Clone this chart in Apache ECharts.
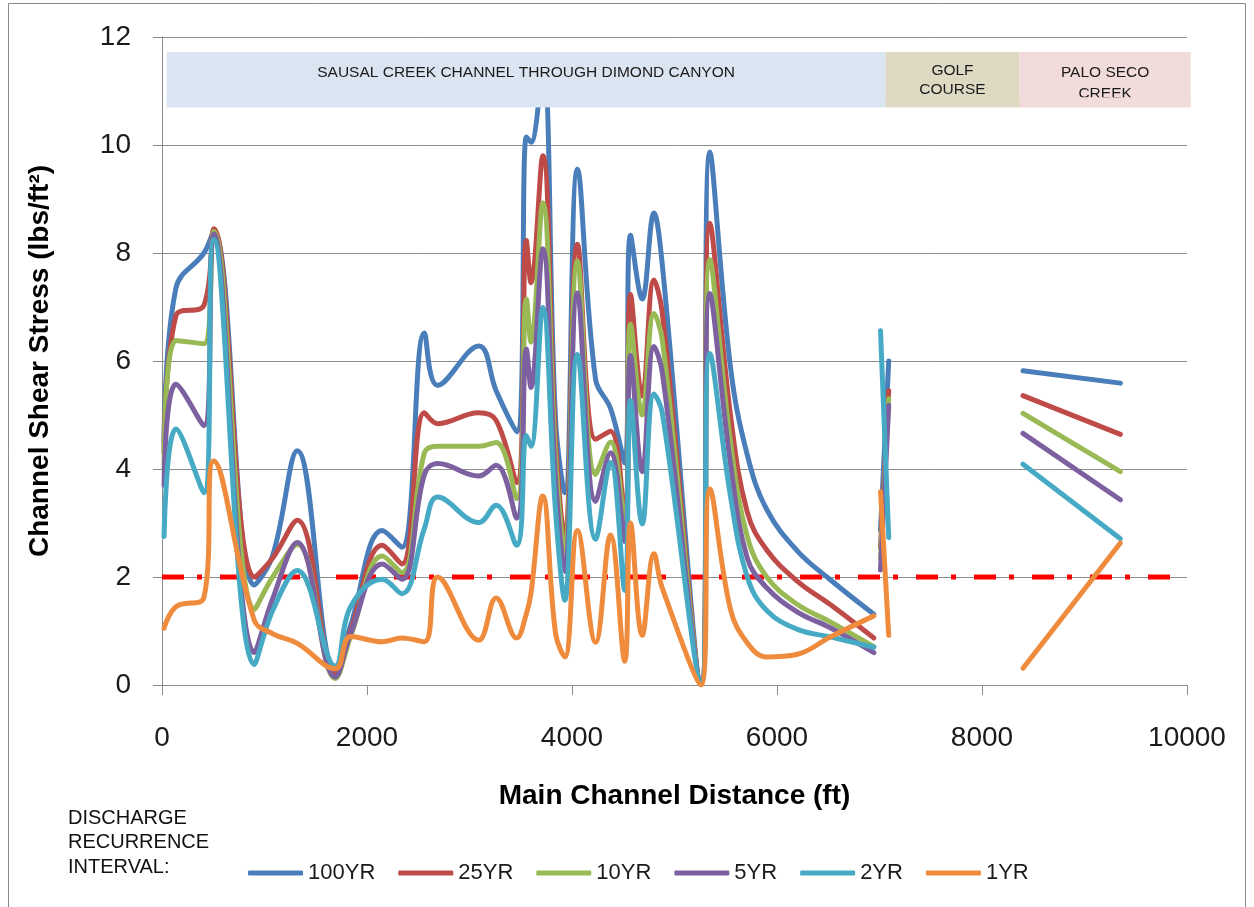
<!DOCTYPE html>
<html>
<head>
<meta charset="utf-8">
<title>Channel Shear Stress</title>
<script src="https://cdn.jsdelivr.net/npm/echarts@6/dist/echarts.min.js"></script>
<style>
  html, body { margin: 0; padding: 0; background: #fff; }
  #chart { width: 1254px; height: 907px; }
</style>
</head>
<body>
<div id="chart"></div>
<script>
// Cross-section stations along the main channel (ft); null entries separate reaches
const stations = [20, 136, 409, 505, 900, 1080, 1320, 1690, 1840, 2150, 2340, 2560, 2690, 3090, 3260, 3460,
  3555, 3600, 3715, 3840, 3930, 4053, 4230, 4376, 4515, 4571, 4685, 4800, 4880, 5260, 5345, 5546, 5710,
  5900, 6200, 6520, 6945, 6980, 7010, 7090, 8000, 8400, 9350];

// Channel shear stress (lbs/ft²) per discharge recurrence interval
const shear100 = [4.5, 7.35, 8.0, 8.4, 1.85, 2.4, 4.34, 0.25, 1.1, 2.86, 2.55, 6.52, 5.55, 6.28, 5.45, 4.69,
  10.15, 10.05, 11.5, 4.9, 3.56, 9.55, 5.66, 5.12, 4.11, 8.33, 7.15, 8.74, 7.8, 0.05, 9.87, 5.89, 4.26,
  3.25, 2.48, 1.95, 1.31, null, 2.87, 6.0, null, 5.82, 5.59];
const shear25 = [4.3, 6.84, 7.03, 8.45, 2.0, 2.35, 3.05, 0.2, 1.0, 2.59, 2.24, 5.04, 4.84, 5.04, 4.9, 3.75,
  8.23, 7.45, 9.8, 4.5, 2.7, 8.16, 4.55, 4.7, 3.04, 7.23, 5.35, 7.5, 6.9, 0.05, 8.55, 5.0, 3.2,
  2.5, 1.92, 1.49, 0.87, null, 2.55, 5.45, null, 5.36, 4.64];
const shear10 = [4.0, 6.38, 6.32, 8.4, 1.4, 2.0, 2.6, 0.12, 0.9, 2.39, 2.08, 4.3, 4.42, 4.42, 4.49, 3.45,
  7.15, 6.35, 8.93, 4.2, 2.46, 7.85, 3.9, 4.5, 2.94, 6.68, 5.0, 6.88, 6.4, 0.05, 7.88, 4.5, 2.75,
  2.0, 1.49, 1.17, 0.71, null, 2.35, 5.3, null, 5.03, 3.95];
const shear5 = [3.7, 5.57, 4.8, 8.35, 0.6, 1.6, 2.64, 0.15, 0.95, 2.24, 1.96, 3.9, 4.1, 3.87, 4.07, 3.09,
  6.22, 5.51, 8.08, 3.8, 2.1, 7.26, 3.4, 4.3, 2.66, 6.1, 3.95, 6.27, 5.8, 0.05, 7.25, 4.1, 2.35,
  1.8, 1.35, 1.06, 0.6, null, 2.13, 5.18, null, 4.66, 3.43];
const shear2 = [2.75, 4.74, 3.56, 8.25, 0.38, 1.38, 2.12, 0.35, 1.45, 1.96, 1.69, 2.9, 3.48, 3.01, 3.33, 2.59,
  4.62, 4.42, 6.99, 3.2, 1.57, 6.12, 2.7, 4.12, 1.75, 5.27, 2.98, 5.39, 5.05, 0.05, 6.14, 3.5, 2.0,
  1.38, 1.03, 0.89, 0.7, null, 6.56, 2.73, null, 4.09, 2.71];
const shear1 = [1.05, 1.45, 1.62, 4.15, 1.2, 0.95, 0.77, 0.3, 0.9, 0.8, 0.87, 0.8, 2.0, 0.83, 1.61, 0.87,
  1.32, 1.7, 3.5, 0.95, 0.52, 2.86, 0.79, 2.78, 0.44, 3.0, 0.92, 2.43, 1.8, 0.0, 3.63, 1.4, 0.78,
  0.52, 0.57, 0.89, 1.28, null, 3.58, 0.92, null, 0.31, 2.63];

const seriesNames = ['100YR', '25YR', '10YR', '5YR', '2YR', '1YR'];
const seriesValues = [shear100, shear25, shear10, shear5, shear2, shear1];

// Critical shear threshold line
const thresholdValue = 2.0;
const thresholdExtent = [0, 9950];

// Reach bands along the top of the plot
const reachNames = ['SAUSAL CREEK CHANNEL THROUGH DIMOND CANYON', 'GOLF\nCOURSE', 'PALO SECO\nCREEK'];
const reachStart = [46, 7058, 8366];
const reachEnd = [7058, 8366, 10036];

const xTicks = [0, 2000, 4000, 6000, 8000, 10000];
const yTicks = [0, 2, 4, 6, 8, 10, 12];

// ---- styling ----
const FONT = '"Liberation Sans", Arial, sans-serif';
const lineColors = ['#4A7EBB', '#BE4B48', '#98B954', '#7D60A0', '#46AAC5', '#EF8B3D'];
const reachFill = ['#DBE5F1', '#DDD9C3', '#F2DCDB'];
const reachTextTop = [12, 9, 10];      // text box inset from the band top (px)
const reachLineHeight = [18, 19, 21];
const bandTop = 11.72, bandBottom = 10.70;
const gridColor = '#8C8C8C';

const chart = echarts.init(document.getElementById('chart'), null, { renderer: 'canvas' });

const lineSeries = seriesNames.map((name, k) => ({
  name: name,
  type: 'line',
  smooth: 0.4,
  showSymbol: false,
  symbol: 'none',
  connectNulls: false,
  z: 3,
  data: stations.map((s, i) => [s, seriesValues[k][i] == null ? '-' : seriesValues[k][i]]),
  lineStyle: { color: lineColors[k], width: 5, cap: 'round', join: 'round' },
  itemStyle: { color: lineColors[k] },
  emphasis: { disabled: true }
}));

const option = {
  animation: false,
  backgroundColor: '#ffffff',
  textStyle: { fontFamily: FONT },
  title: {
    text: 'DISCHARGE\nRECURRENCE\nINTERVAL:',
    left: 63,
    top: 801,
    textStyle: { fontFamily: FONT, fontSize: 20, fontWeight: 'normal', color: '#111', lineHeight: 24.5 }
  },
  legend: {
    data: seriesNames,
    left: 243,
    top: 857,
    orient: 'horizontal',
    icon: 'roundRect',
    itemWidth: 55,
    itemHeight: 5,
    itemGap: 23,
    textStyle: { fontFamily: FONT, fontSize: 22, color: '#1a1a1a' },
    selectedMode: false
  },
  grid: { left: 162, right: 67, top: 37, bottom: 222, containLabel: false },
  xAxis: {
    type: 'value',
    min: xTicks[0],
    max: xTicks[xTicks.length - 1],
    interval: xTicks[1] - xTicks[0],
    name: 'Main Channel Distance (ft)',
    nameLocation: 'middle',
    nameGap: 97,
    nameTextStyle: { fontFamily: FONT, fontSize: 28, fontWeight: 'bold', color: '#000' },
    axisLine: { show: true, lineStyle: { color: gridColor, width: 1 } },
    axisTick: { show: true, length: 10, lineStyle: { color: gridColor } },
    axisLabel: { margin: 39, fontFamily: FONT, fontSize: 28, color: '#1a1a1a', formatter: v => String(v) },
    splitLine: { show: false }
  },
  yAxis: {
    type: 'value',
    min: yTicks[0],
    max: yTicks[yTicks.length - 1],
    interval: yTicks[1] - yTicks[0],
    name: 'Channel Shear Stress (lbs/ft²)',
    nameLocation: 'middle',
    nameGap: 108,
    nameRotate: 90,
    nameTextStyle: { fontFamily: FONT, fontSize: 28, fontWeight: 'bold', color: '#000' },
    axisLine: { show: true, lineStyle: { color: gridColor, width: 1 } },
    axisTick: { show: true, length: 9, lineStyle: { color: gridColor } },
    axisLabel: { margin: 31, fontFamily: FONT, fontSize: 28, color: '#1a1a1a', formatter: v => String(v) },
    splitLine: { show: true, lineStyle: { color: gridColor, width: 1 } }
  },
  series: [
    {
      name: 'threshold',
      type: 'line',
      data: thresholdExtent.map(x => [x, thresholdValue]),
      symbol: 'none',
      z: 2,
      lineStyle: { color: '#FF0000', width: 5, type: [22, 13, 5, 18] },
      emphasis: { disabled: true },
      silent: true
    },
    ...lineSeries
  ]
};

chart.setOption(option);

// Reach bands: placed through the grid's own scales, layered above the curves
function reachGraphics() {
  const els = [{
    type: 'rect',
    shape: { x: 8.5, y: 3.5, width: 1237, height: 920 },
    style: { fill: 'none', stroke: '#8a8a8a', lineWidth: 1 },
    silent: true,
    z: -10
  }];
  reachNames.forEach((label, i) => {
    const p0 = chart.convertToPixel({ gridIndex: 0 }, [reachStart[i], bandTop]);
    const p1 = chart.convertToPixel({ gridIndex: 0 }, [reachEnd[i], bandBottom]);
    const w = p1[0] - p0[0];
    const h = p1[1] - p0[1];
    els.push({
      type: 'group',
      zlevel: 2,
      z: 100,
      silent: true,
      children: [
        { type: 'rect', z: 100, shape: { x: p0[0], y: p0[1], width: w, height: h }, style: { fill: reachFill[i] } },
        {
          type: 'text', z: 101,
          style: {
            text: label,
            x: p0[0] + w / 2,
            y: p0[1] + reachTextTop[i],
            align: 'center',
            verticalAlign: 'top',
            font: '15.5px ' + FONT,
            lineHeight: reachLineHeight[i],
            fill: '#1a1a1a'
          }
        },
        // inner margin of the text box: text running past it is hidden
        { type: 'rect', z: 102, shape: { x: p0[0], y: p1[1] - 10, width: w, height: 10 }, style: { fill: reachFill[i] } }
      ]
    });
  });
  return els;
}

chart.setOption({ graphic: reachGraphics() });
</script>
</body>
</html>
